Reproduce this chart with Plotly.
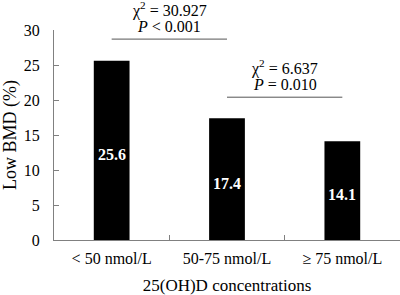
import plotly.graph_objects as go

categories = ["< 50 nmol/L", "50-75 nmol/L", "≥ 75 nmol/L"]
values = [25.6, 17.4, 14.1]
y_ticks = [0, 5, 10, 15, 20, 25, 30]

tests = [
    {"from": 0, "to": 1, "chi": "30.927", "p": "<i>P</i> < 0.001", "level": 28.7},
    {"from": 1, "to": 2, "chi": "6.637", "p": "<i>P</i> = 0.010", "level": 20.4},
]

FONT = "Liberation Serif, Times New Roman, serif"

fig = go.Figure()
fig.add_trace(go.Bar(
    x=categories, y=values,
    marker=dict(color="black", line=dict(width=0)),
    width=0.31, hoverinfo="skip",
))

shapes = []
annotations = []
for cat, v in zip(categories, values):
    annotations.append(dict(xref="x", yref="y", x=cat, y=v / 2, yshift=-4,
                            showarrow=False, text=f"<b>{v:.1f}</b>",
                            font=dict(family=FONT, size=16, color="white")))
for t in tests:
    mid = (t["from"] + t["to"]) / 2
    shapes.append(dict(type="line", xref="x", yref="y", x0=t["from"], x1=t["to"],
                       y0=t["level"], y1=t["level"], line=dict(color="#555555", width=1)))
    annotations.append(dict(xref="x", yref="y", x=mid, y=t["level"],
                            yshift=13, yanchor="middle", showarrow=False,
                            text=t["p"], font=dict(family=FONT, size=16, color="black")))
    annotations.append(dict(xref="x", yref="y", x=mid, y=t["level"],
                            yshift=30, yanchor="middle", showarrow=False,
                            text=f"χ<sup>2</sup> = {t['chi']}",
                            font=dict(family=FONT, size=16, color="black")))

fig.update_layout(
    width=400, height=295,
    margin=dict(l=54, r=0, t=30, b=55),
    paper_bgcolor="white", plot_bgcolor="white",
    showlegend=False,
    font=dict(family=FONT, size=16, color="black"),
    shapes=shapes, annotations=annotations,
    xaxis=dict(
        showline=True, linecolor="#808080", linewidth=1,
        ticks="inside", ticklen=5, tickcolor="#808080", tickson="boundaries",
        ticklabelstandoff=4,
        title=dict(text="25(OH)D concentrations", standoff=16, font=dict(size=17)),
        tickfont=dict(size=16), showgrid=False, automargin=False,
    ),
    yaxis=dict(
        range=[0, 30], tickvals=y_ticks,
        showline=True, linecolor="#808080", linewidth=1,
        ticks="inside", ticklen=5, tickcolor="#808080", ticklabelstandoff=10,
        title=dict(text="Low BMD (%)", standoff=8, font=dict(size=18)),
        tickfont=dict(size=16), showgrid=False, zeroline=False, automargin=False,
    ),
)

fig.write_html("out.html", config={"displayModeBar": False},
               post_script="document.body.style.margin='0';document.body.style.padding='0';")
